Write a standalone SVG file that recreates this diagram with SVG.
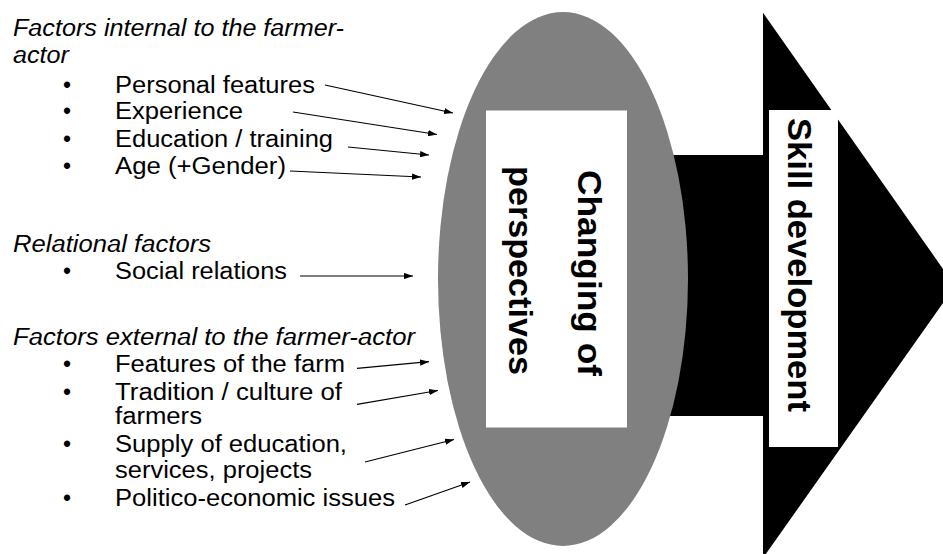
<svg xmlns="http://www.w3.org/2000/svg" width="943" height="554" viewBox="0 0 943 554">
<style>
.t{font-family:"Liberation Sans",Arial,sans-serif;font-size:23px;fill:#000}
.i{font-style:italic}
.b{font-family:"Liberation Sans",Arial,sans-serif;font-size:34px;font-weight:bold;fill:#000}
.c{stroke:#000;stroke-width:1.2;fill:none;marker-end:url(#ah)}
</style>
<defs>
<marker id="ah" viewBox="0 0 10 7" refX="10" refY="3.5" markerWidth="9" markerHeight="6.3" markerUnits="userSpaceOnUse" orient="auto">
<path d="M0,0 L10,3.5 L0,7 z" fill="#000"/>
</marker>
</defs>
<rect width="943" height="554" fill="#fff"/>

<g id="skill-arrow">
<polygon points="660,155 763,155 763,12.7 955,286 763,558 763,416 660,416" fill="#000"/>
<rect x="769" y="110" width="69" height="337" fill="#fff"/>
<text class="b" transform="translate(788,265) rotate(90)" text-anchor="middle" textLength="294" lengthAdjust="spacingAndGlyphs">Skill development</text>
</g>

<g id="perspectives">
<ellipse cx="563" cy="279" rx="125" ry="267" fill="#808080"/>
<rect x="486" y="110.5" width="141" height="317" fill="#fff"/>
<text class="b" transform="translate(578,273) rotate(90)" text-anchor="middle" textLength="206" lengthAdjust="spacingAndGlyphs">Changing of</text>
<text class="b" transform="translate(509,270.5) rotate(90)" text-anchor="middle" textLength="209" lengthAdjust="spacingAndGlyphs">perspectives</text>
</g>

<g id="internal-factors">
<text class="t i" x="13" y="36" textLength="331" lengthAdjust="spacingAndGlyphs">Factors internal to the farmer-</text>
<text class="t i" x="13" y="63" textLength="56" lengthAdjust="spacingAndGlyphs">actor</text>
<text class="t" x="63" y="93">•</text>
<text class="t" x="115" y="93" textLength="200" lengthAdjust="spacingAndGlyphs">Personal features</text>
<text class="t" x="63" y="119">•</text>
<text class="t" x="115" y="119" textLength="128" lengthAdjust="spacingAndGlyphs">Experience</text>
<text class="t" x="63" y="147">•</text>
<text class="t" x="115" y="147" textLength="218" lengthAdjust="spacingAndGlyphs">Education / training</text>
<text class="t" x="63" y="174">•</text>
<text class="t" x="115" y="174" textLength="171" lengthAdjust="spacingAndGlyphs">Age (+Gender)</text>
</g>

<g id="relational-factors">
<text class="t i" x="13" y="252" textLength="198" lengthAdjust="spacingAndGlyphs">Relational factors</text>
<text class="t" x="63" y="279">•</text>
<text class="t" x="115" y="279" textLength="172" lengthAdjust="spacingAndGlyphs">Social relations</text>
</g>

<g id="external-factors">
<text class="t i" x="13" y="345" textLength="402" lengthAdjust="spacingAndGlyphs">Factors external to the farmer-actor</text>
<text class="t" x="63" y="372">•</text>
<text class="t" x="115" y="372" textLength="230" lengthAdjust="spacingAndGlyphs">Features of the farm</text>
<text class="t" x="63" y="400">•</text>
<text class="t" x="115" y="400" textLength="227" lengthAdjust="spacingAndGlyphs">Tradition / culture of</text>
<text class="t" x="115" y="424" textLength="87" lengthAdjust="spacingAndGlyphs">farmers</text>
<text class="t" x="63" y="452">•</text>
<text class="t" x="115" y="452" textLength="232" lengthAdjust="spacingAndGlyphs">Supply of education,</text>
<text class="t" x="115" y="478" textLength="197" lengthAdjust="spacingAndGlyphs">services, projects</text>
<text class="t" x="63" y="506">•</text>
<text class="t" x="115" y="506" textLength="280" lengthAdjust="spacingAndGlyphs">Politico-economic issues</text>
</g>

<g id="connectors">
<line class="c" x1="325" y1="85" x2="453" y2="113"/>
<line class="c" x1="293" y1="112" x2="437" y2="134.5"/>
<line class="c" x1="348" y1="147" x2="429" y2="155"/>
<line class="c" x1="290" y1="171" x2="421" y2="177"/>
<line class="c" x1="300" y1="276" x2="413" y2="276"/>
<line class="c" x1="357" y1="368.3" x2="429" y2="361.7"/>
<line class="c" x1="357" y1="404.3" x2="438" y2="390.5"/>
<line class="c" x1="365" y1="462" x2="454" y2="439.5"/>
<line class="c" x1="405" y1="505" x2="470" y2="482"/>
</g>
</svg>
